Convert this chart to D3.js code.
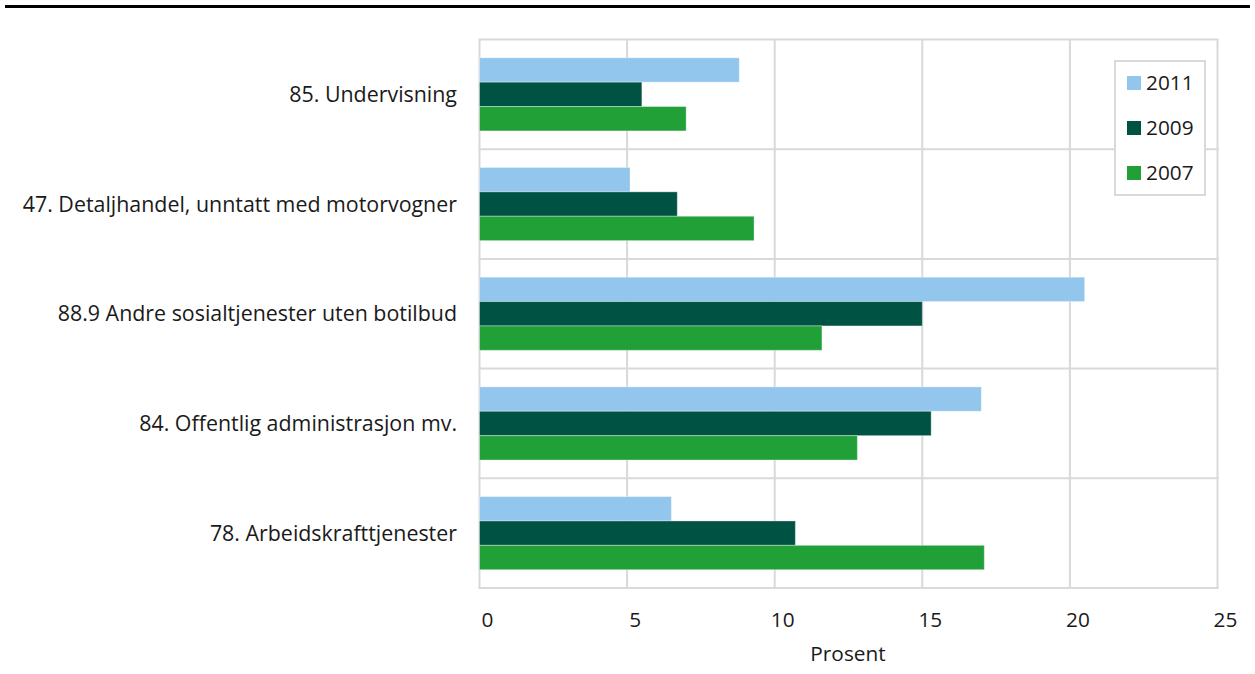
<!DOCTYPE html>
<html lang="no">
<head>
<meta charset="utf-8">
<title>Næringer</title>
<script src="https://d3js.org/d3.v7.min.js"></script>
<style>
  body { margin: 0; background: #fff; }
  svg text { font-family: "Open Sans", sans-serif; fill: #1a1a1a; }
</style>
</head>
<body>
<div id="chart"></div>
<script>
// Data
const categories = [
  "85. Undervisning",
  "47. Detaljhandel, unntatt med motorvogner",
  "88.9 Andre sosialtjenester uten botilbud",
  "84. Offentlig administrasjon mv.",
  "78. Arbeidskrafttjenester"
];
const years = ["2011", "2009", "2007"];
const values2011 = [8.8, 5.1, 20.5, 17.0, 6.5];
const values2009 = [5.5, 6.7, 15.0, 15.3, 10.7];
const values2007 = [7.0, 9.3, 11.6, 12.8, 17.1];
const xTicks = [0, 5, 10, 15, 20, 25];

const series = [values2011, values2009, values2007];
const colors = ["#93c6ec", "#005243", "#21a038"];

// Dimensions
const width = 1255;
const height = 674;
const margin = { top: 39.5, right: 37.5, bottom: 86, left: 479.5 };

const svg = d3.select("#chart").append("svg")
  .attr("width", width)
  .attr("height", height);

// Top rule
svg.append("rect")
  .attr("x", 5).attr("y", 5)
  .attr("width", 1245).attr("height", 3)
  .attr("fill", "#000");

const x = d3.scaleLinear()
  .domain([0, 25])
  .range([margin.left, width - margin.right]);

const y = d3.scaleBand()
  .domain(categories)
  .range([margin.top, height - margin.bottom]);

const inner = d3.scaleBand()
  .domain(years)
  .range([0, y.bandwidth()])
  .paddingOuter(0.75);

// Gridlines
const grid = svg.append("g");
grid.selectAll(".vline")
  .data(xTicks)
  .enter().append("line")
  .attr("x1", d => x(d)).attr("x2", d => x(d))
  .attr("y1", margin.top).attr("y2", height - margin.bottom)
  .attr("stroke", "#d9d9d9")
  .attr("stroke-width", 2);

const hPos = categories.map(c => y(c)).concat([height - margin.bottom]);
grid.selectAll(".hline")
  .data(hPos)
  .enter().append("line")
  .attr("x1", x(0) - 1).attr("x2", x(25) + 1)
  .attr("y1", d => d).attr("y2", d => d)
  .attr("stroke", "#d9d9d9")
  .attr("stroke-width", 2);

// Bars
years.forEach((yr, j) => {
  svg.append("g").selectAll("rect")
    .data(categories)
    .enter().append("rect")
    .attr("x", x(0))
    .attr("y", c => y(c) + inner(yr))
    .attr("width", (c, i) => x(series[j][i]) - x(0))
    .attr("height", inner.bandwidth())
    .attr("fill", colors[j])
    .attr("stroke", "rgba(255,255,255,0.35)")
    .attr("stroke-width", 1);
});

// Category labels
svg.append("g").selectAll("text")
  .data(categories)
  .enter().append("text")
  .attr("x", 457)
  .attr("y", c => y(c) + y.bandwidth() / 2)
  .attr("dy", "0.35em")
  .attr("text-anchor", "end")
  .attr("font-size", 21.4)
  .text(c => c);

// X tick labels
svg.append("g").selectAll("text")
  .data(xTicks)
  .enter().append("text")
  .attr("x", d => x(d) + 8)
  .attr("y", 627)
  .attr("text-anchor", "middle")
  .attr("font-size", 20.8)
  .text(d => d);

svg.append("text")
  .attr("x", 848)
  .attr("y", 661)
  .attr("text-anchor", "middle")
  .attr("font-size", 20.8)
  .text("Prosent");

// Legend
const legend = svg.append("g");
legend.append("rect")
  .attr("x", 1115).attr("y", 61)
  .attr("width", 90).attr("height", 134)
  .attr("fill", "#fff")
  .attr("stroke", "#d9d9d9")
  .attr("stroke-width", 2);

const items = legend.selectAll(".item")
  .data(years)
  .enter().append("g")
  .attr("transform", (d, i) => `translate(1127, ${83 + i * 45})`);
items.append("rect")
  .attr("x", 0).attr("y", -7)
  .attr("width", 14).attr("height", 14)
  .attr("fill", (d, i) => colors[i]);
items.append("text")
  .attr("x", 19)
  .attr("y", 0)
  .attr("dy", "0.35em")
  .attr("font-size", 20.8)
  .text(d => d);
</script>
</body>
</html>
